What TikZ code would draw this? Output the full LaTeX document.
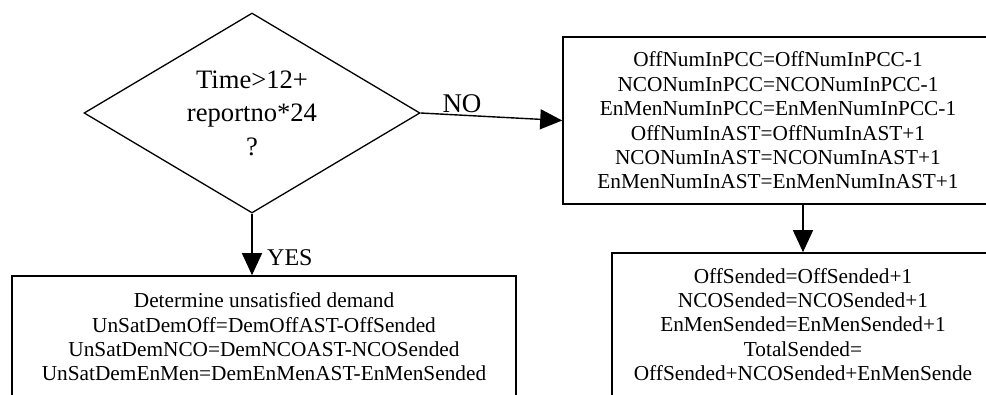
\documentclass[tikz,border=0pt]{standalone}
\usepackage{fontspec}
\setmainfont{Liberation Serif}
\usetikzlibrary{shapes.geometric,arrows.meta}
\begin{document}
\begin{tikzpicture}[x=1pt,y=-1pt,
  boxtext/.style={font=\fontsize{21.3}{24.4}\selectfont, align=center},
  procbox/.style={draw, line width=1.6pt, rectangle, inner sep=0pt, boxtext},
  decision/.style={draw, line width=1.3pt, diamond, aspect=1.68, inner sep=0pt, align=center, font=\fontsize{26.6}{33.5}\selectfont},
  flow/.style={line width=1.4pt, -{Triangle[length=22pt,width=20pt]}},
  lbl/.style={inner sep=0pt}
]
\useasboundingbox (0,0) rectangle (986,394);
\clip (0,0) rectangle (986,394);
\node[decision, minimum width=336pt, minimum height=200pt] (d) at (252,113) {Time>12+\\reportno*24\\?};
\node[procbox, minimum width=430pt, minimum height=167pt] (b1) at (778,120.5) {OffNumInPCC=OffNumInPCC-1\\NCONumInPCC=NCONumInPCC-1\\EnMenNumInPCC=EnMenNumInPCC-1\\OffNumInAST=OffNumInAST+1\\NCONumInAST=NCONumInAST+1\\EnMenNumInAST=EnMenNumInAST+1};
\node[procbox, minimum width=382pt, minimum height=143pt] (b2) at (803,324.5) {OffSended=OffSended+1\\NCOSended=NCOSended+1\\EnMenSended=EnMenSended+1\\TotalSended=\\OffSended+NCOSended+EnMenSende};
\node[procbox, minimum width=504pt, minimum height=122pt] (b3) at (264,337) {Determine unsatisfied demand\\UnSatDemOff=DemOffAST-OffSended\\UnSatDemNCO=DemNCOAST-NCOSended\\UnSatDemEnMen=DemEnMenAST-EnMenSended};
\draw[flow] (d.east) -- (b1.west);
\draw[flow] (d.south) -- (d.south |- b3.north);
\draw[flow] (b1.south -| b2.north) -- (b2.north);
\node[lbl, font=\fontsize{27}{30}\selectfont] (no) at (462,104) {NO};
\node[lbl, anchor=west, font=\fontsize{24}{28}\selectfont] (yes) at (267,258) {YES};
\end{tikzpicture}
\end{document}
